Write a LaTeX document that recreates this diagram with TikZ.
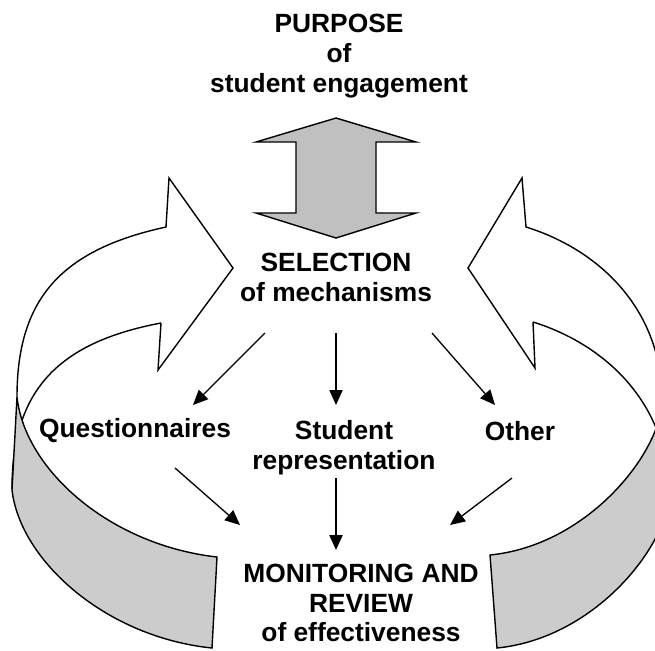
\documentclass[tikz,border=0pt]{standalone}
\usepackage{fontspec}
\setmainfont{Liberation Sans}
\usepackage{xcolor}
\usepackage{tikz}
\usetikzlibrary{arrows.meta, calc}
\definecolor{bandgray}{RGB}{204, 204, 204}
\definecolor{dblgray}{RGB}{192, 192, 192}

\begin{document}
\begin{tikzpicture}[
  x=0.02cm, y=-0.02cm,
  lbl/.style={inner sep=0pt, align=center, font=\bfseries\fontsize{15}{17}\selectfont},
  outline/.style={draw=black, line width=0.8pt, line join=miter},
  link/.style={-{Triangle[length=8.5pt, width=7.5pt]}, line width=0.75pt, color=black}
]
\useasboundingbox (0,0) rectangle (655,650);

% Loop bands
\begin{scope}
\clip (0,0) rectangle (655,650);
% left band
\draw[outline] (161,323) .. controls (55,343) and (12,393) .. (12,489);
\draw[outline] (17,397) .. controls (17,300) and (60,250) .. (166,227)
  -- (169,178) -- (233,268) -- (158,370) -- (161,323);
\filldraw[outline, fill=bandgray] (17,397) .. controls (25,470) and (110,545) .. (217,557)
  -- (212,648) .. controls (105,637) and (20,560) .. (12,490) -- cycle;
% right band
\draw[outline] (533,322) .. controls (607,345) and (669,405) .. (669,495);
\draw[outline] (662,400) .. controls (662,310) and (600,250) .. (526,227)
  -- (522,178) -- (468,268) -- (535,368) -- (533,322);
\filldraw[outline, fill=bandgray] (662,400) .. controls (662,450) and (590,545) .. (490,555)
  -- (497,648) .. controls (597,638) and (669,543) .. (669,493) -- cycle;
\end{scope}

% Double arrow
\filldraw[outline, fill=dblgray] (336,118) -- (416,142) -- (376,142) -- (376,213)
  -- (416,213) -- (336,238) -- (256,213) -- (296,213) -- (296,142) -- (256,142) -- cycle;

% Labels
\node[lbl] (purpose) at (339,56) {PURPOSE\\of\\student engagement};
\node[lbl] (selection) at (336,277) {SELECTION\\of mechanisms};
\node[lbl] (quest) at (135,431) {Questionnaires};
\node[lbl] (student) at (344,448) {Student\\representation};
\node[lbl] (other) at (520,431) {Other};
\node[lbl] (monitor) at (361,603) {MONITORING AND\\REVIEW\\of effectiveness};

% Arrows
\draw[link] ($(selection)+(-71,56)$) -- ($(quest)+(58,-26)$);
\draw[link] ($(selection)+(0,56)$) -- ($(student)+(-8,-43)$);
\draw[link] ($(selection)+(96,56)$) -- ($(other)+(-25,-26)$);
\draw[link] ($(quest)+(40,37)$) -- ($(monitor)+(-121,-78)$);
\draw[link] ($(student)+(-8,30)$) -- ($(monitor)+(-25,-53)$);
\draw[link] ($(other)+(-8,47)$) -- ($(monitor)+(89,-78)$);

\end{tikzpicture}
\end{document}
